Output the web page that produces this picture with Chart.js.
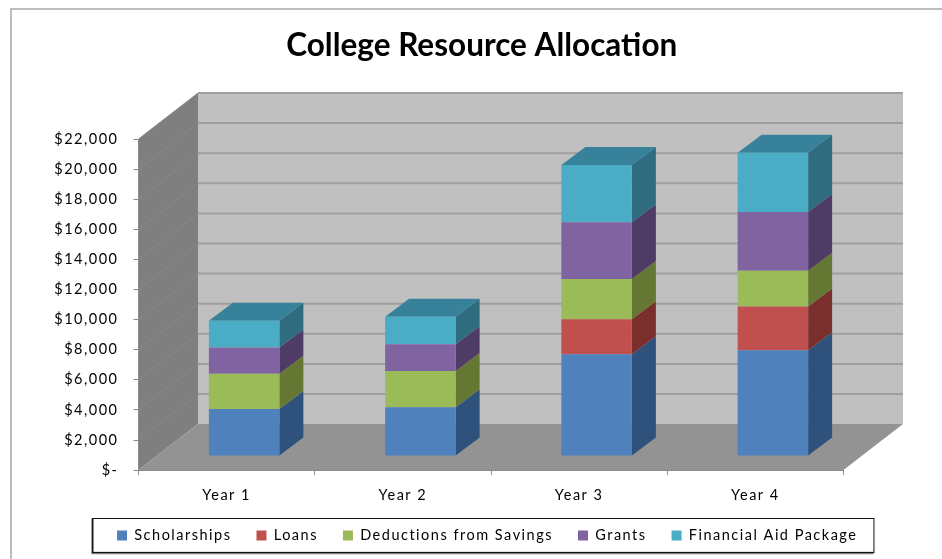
<!DOCTYPE html>
<html>
<head>
<meta charset="utf-8">
<title>College Resource Allocation</title>
<script src="https://cdn.jsdelivr.net/npm/chart.js@4"></script>
<style>
  html, body { margin: 0; padding: 0; background: #fff; }
  canvas { display: block; filter: blur(0.45px); }
</style>
</head>
<body>
<canvas id="resourceChart" width="942" height="559"></canvas>
<script>
const categories = ['Year 1', 'Year 2', 'Year 3', 'Year 4'];
const scholarships = [3130, 3240, 6760, 7030];
const loans = [0, 0, 2340, 2910];
const deductions = [2340, 2420, 2670, 2370];
const grants = [1740, 1780, 3760, 3910];
const financialAid = [1780, 1820, 3810, 3940];
const yTickLabels = ['$-', '$2,000', '$4,000', '$6,000', '$8,000', '$10,000', '$12,000',
    '$14,000', '$16,000', '$18,000', '$20,000', '$22,000'];

// 3D look: depth of the whole plot, bar offset on the floor, and depth of a bar
const plotDepth = {x: 59.5, y: -46};
const barShift = {x: 17.5, y: -14};
const barDepth = {x: 24, y: -18};
const textSpacing = '1.5px';
const legendPadding = 25;

function polygon(ctx, points, fill) {
    ctx.beginPath();
    points.forEach((p, i) => i ? ctx.lineTo(p[0], p[1]) : ctx.moveTo(p[0], p[1]));
    ctx.closePath();
    ctx.fillStyle = fill;
    ctx.fill();
}

const spacedText = {
    id: 'spaced_text',
    afterInit: (chart) => {
        // the title keeps normal spacing, axis and legend text is wider
        let block = chart.titleBlock;
        let draw = block.draw;
        block.draw = function () {
            chart.ctx.letterSpacing = '0px';
            draw.call(block);
            chart.ctx.letterSpacing = textSpacing;
        };
    },
    beforeLayout: (chart) => { chart.ctx.letterSpacing = textSpacing; },
    afterLayout: (chart) => {
        // title and legend are centred on the whole frame, not on the plot
        let {titleBlock, legend} = chart;
        titleBlock.left += 49;
        titleBlock.right += 49;
        let dx = 54.5, dy = 503.3 - legend.top;
        legend.left += dx;
        legend.right += dx;
        legend.top += dy;
        legend.bottom += dy;
        legend.legendHitBoxes.forEach((box) => {
            box.left += dx;
            box.top += dy;
        });
    },
    beforeDraw: (chart) => { chart.ctx.letterSpacing = textSpacing; }
};

const walls = {
    id: 'walls',
    beforeDraw: (chart) => {
        let {ctx, scales: {x, y}} = chart;
        let left = x.left, right = x.right, top = y.top, bottom = y.bottom;
        let dx = plotDepth.x, dy = plotDepth.y;
        ctx.save();
        // outer frame, cut by the edge of the picture
        ctx.strokeStyle = '#bdbdbd';
        ctx.lineWidth = 2;
        ctx.beginPath();
        ctx.moveTo(11, 559);
        ctx.lineTo(11, 9);
        ctx.lineTo(942, 9);
        ctx.stroke();

        polygon(ctx, [[left + dx, top + dy], [right + dx, top + dy], [right + dx, bottom + dy], [left + dx, bottom + dy]], '#c0c0c0');
        polygon(ctx, [[left, bottom], [left, top], [left + dx, top + dy], [left + dx, bottom + dy]], '#7f7f7f');
        polygon(ctx, [[left, bottom], [right, bottom], [right + dx, bottom + dy], [left + dx, bottom + dy]], '#939393');

        y.ticks.forEach((tick) => {
            let py = y.getPixelForValue(tick.value);
            if (tick.value > 0) {
                ctx.strokeStyle = '#898989';
                ctx.lineWidth = 1;
                ctx.beginPath();
                ctx.moveTo(left, py);
                ctx.lineTo(left + dx, py + dy);
                ctx.stroke();
                ctx.strokeStyle = '#9f9f9f';
                ctx.lineWidth = 2;
                ctx.beginPath();
                ctx.moveTo(left + dx, py + dy);
                ctx.lineTo(right + dx, py + dy);
                ctx.stroke();
            }
        });
        ctx.restore();
    }
};

const bars3d = {
    id: 'bars3d',
    beforeDatasetsDraw: (chart) => {
        let {ctx, data} = chart;
        ctx.save();
        ctx.translate(barShift.x, barShift.y);
        let ddx = barDepth.x, ddy = barDepth.y;
        data.datasets.forEach((dataset, d) => {
            chart.getDatasetMeta(d).data.forEach((bar, i) => {
                if (!dataset.data[i]) return;
                let {x, y, base, width} = bar.getProps(['x', 'y', 'base', 'width'], true);
                let r = x + width / 2, l = x - width / 2;
                polygon(ctx, [[r, y], [r + ddx, y + ddy], [r + ddx, base + ddy], [r, base]], dataset.sideColor);
                if (d === data.datasets.length - 1) {
                    polygon(ctx, [[l, y], [r, y], [r + ddx, y + ddy], [l + ddx, y + ddy]], dataset.topColor);
                }
            });
        });
        // bars themselves are drawn by the chart in this shifted position
    },
    afterDatasetsDraw: (chart) => {
        chart.ctx.restore();
    }
};

const legendBox = {
    id: 'legend_box',
    afterDraw: (chart) => {
        let {ctx, legend} = chart;
        let boxes = legend.legendHitBoxes;
        let last = boxes[boxes.length - 1];
        let x0 = boxes[0].left - 25, x1 = last.left + last.width + 16;
        let y0 = 518.5, y1 = 552.5;
        ctx.save();
        // grey shadow on the left and bottom of the box
        ctx.strokeStyle = '#7d7d7d';
        ctx.lineWidth = 2.5;
        ctx.beginPath();
        ctx.moveTo(x0 + 0.5, y0);
        ctx.lineTo(x0 + 0.5, y1 + 0.5);
        ctx.lineTo(x1, y1 + 0.5);
        ctx.stroke();
        ctx.strokeStyle = '#111';
        ctx.lineWidth = 1;
        ctx.strokeRect(x0 + 0.5, y0, x1 - x0, y1 - y0);
        ctx.restore();
    }
};

new Chart(document.getElementById('resourceChart').getContext('2d'), {
    type: 'bar',
    data: {
        labels: categories,
        datasets: [
            {label: 'Scholarships', data: scholarships, backgroundColor: '#4f81bd', sideColor: '#2f527c'},
            {label: 'Loans', data: loans, backgroundColor: '#c0504d', sideColor: '#7b2f2d'},
            {label: 'Deductions from Savings', data: deductions, backgroundColor: '#9bbb59', sideColor: '#647733'},
            {label: 'Grants', data: grants, backgroundColor: '#8064a2', sideColor: '#4f3c66'},
            {label: 'Financial Aid Package', data: financialAid, backgroundColor: '#4bacc6', sideColor: '#2f6c80', topColor: '#37829a'}
        ]
    },
    options: {
        responsive: false,
        animation: false,
        layout: {padding: {left: 22, right: 98.5, top: 8, bottom: 0}},
        datasets: {bar: {categoryPercentage: 1, barPercentage: 0.4}},
        plugins: {
            title: {
                display: true,
                text: 'College Resource Allocation',
                color: '#000',
                font: {family: 'Lato', size: 31.5, weight: 'bold', lineHeight: 1.2},
                padding: {top: 18.5, bottom: 74.7}
            },
            legend: {
                position: 'bottom',
                labels: {
                    boxWidth: 10,
                    boxHeight: 10,
                    padding: legendPadding,
                    color: '#000',
                    font: {family: 'Lato', size: 14.5}
                }
            },
            tooltip: {enabled: false}
        },
        scales: {
            x: {
                stacked: true,
                afterFit: (scale) => { scale.height = 39.4; },
                grid: {drawOnChartArea: false, tickLength: 5, color: '#8c8c8c'},
                border: {color: '#8c8c8c'},
                ticks: {padding: 11.5, color: '#000', font: {family: 'Lato', size: 14.5}, maxRotation: 0}
            },
            y: {
                stacked: true,
                min: 0,
                max: 22000,
                afterFit: (scale) => { scale.width = 116.5; },
                grid: {drawOnChartArea: false, tickLength: 5, color: '#8c8c8c'},
                border: {color: '#8c8c8c'},
                ticks: {
                    stepSize: 2000,
                    padding: 15,
                    color: '#000',
                    font: {family: 'Lato', size: 14.5},
                    callback: (value, index) => yTickLabels[index]
                }
            }
        }
    },
    plugins: [spacedText, walls, bars3d, legendBox]
});
</script>
</body>
</html>
